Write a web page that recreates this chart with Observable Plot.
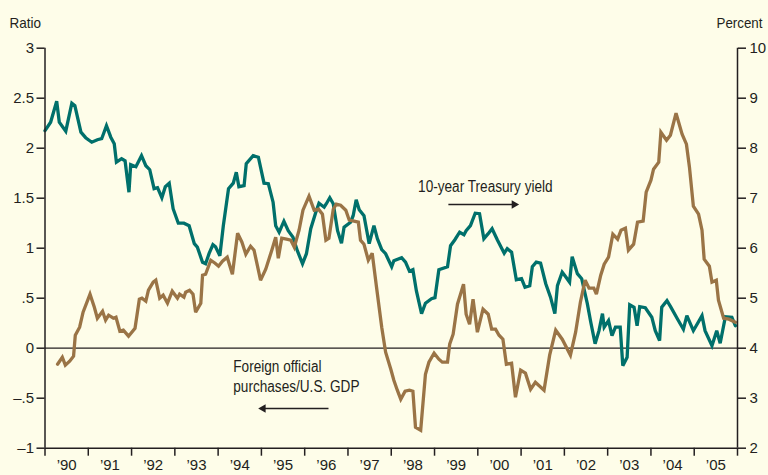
<!DOCTYPE html>
<html>
<head>
<meta charset="utf-8">
<script src="https://cdn.jsdelivr.net/npm/d3@7"></script>
<script src="https://cdn.jsdelivr.net/npm/@observablehq/plot@0.6"></script>
<style>
  html, body { margin: 0; padding: 0; background: #fefde9; }
  #chart svg { display: block; }
</style>
</head>
<body>
<div id="chart"></div>
<script>
// ---- data ----
const yearTicks = [1990,1991,1992,1993,1994,1995,1996,1997,1998,1999,2000,2001,2002,2003,2004,2005,2006];
const yearLabels = ["’90","’91","’92","’93","’94","’95","’96","’97","’98","’99","’00","’01","’02","’03","’04","’05"];
const ratioTicks = [-1,-0.5,0,0.5,1,1.5,2,2.5,3];
const ratioLabels = ["–1","–.5","0",".5","1","1.5","2","2.5","3"];
const percentTicks = [2,3,4,5,6,7,8,9,10];
const percentLabels = ["2","3","4","5","6","7","8","9","10"];

// 10-year Treasury yield, percent (time in decimal years)
const yieldTime = [1990.00,1990.13,1990.27,1990.33,1990.48,1990.62,1990.69,1990.83,1990.94,1991.08,1991.21,1991.31,1991.42,1991.52,1991.60,1991.65,1991.77,1991.85,1991.94,1991.98,1992.10,1992.23,1992.33,1992.42,1992.52,1992.60,1992.70,1992.78,1992.87,1992.96,1993.08,1993.21,1993.33,1993.45,1993.52,1993.64,1993.71,1993.79,1993.88,1993.94,1994.04,1994.12,1994.24,1994.35,1994.42,1994.48,1994.60,1994.65,1994.81,1994.93,1995.06,1995.16,1995.27,1995.33,1995.41,1995.52,1995.62,1995.73,1995.83,1995.95,1996.04,1996.14,1996.25,1996.33,1996.45,1996.50,1996.58,1996.66,1996.76,1996.85,1996.91,1997.06,1997.12,1997.19,1997.26,1997.37,1997.49,1997.60,1997.68,1997.78,1997.87,1998.01,1998.06,1998.24,1998.33,1998.42,1998.50,1998.58,1998.70,1998.79,1998.93,1999.01,1999.10,1999.30,1999.37,1999.47,1999.58,1999.68,1999.73,1999.83,1999.94,2000.04,2000.14,2000.24,2000.33,2000.45,2000.61,2000.68,2000.78,2000.89,2001.01,2001.09,2001.20,2001.26,2001.35,2001.45,2001.57,2001.68,2001.78,2001.84,2001.95,2002.03,2002.12,2002.18,2002.30,2002.40,2002.53,2002.61,2002.71,2002.80,2002.88,2002.92,2003.02,2003.10,2003.18,2003.29,2003.35,2003.45,2003.51,2003.61,2003.68,2003.74,2003.87,2004.02,2004.10,2004.20,2004.25,2004.37,2004.46,2004.61,2004.75,2004.83,2004.98,2005.18,2005.25,2005.41,2005.52,2005.60,2005.72,2005.87,2005.95];
const yieldValue = [8.35,8.52,8.94,8.52,8.34,8.90,8.85,8.32,8.21,8.12,8.17,8.19,8.45,8.22,8.09,7.72,7.79,7.75,7.12,7.67,7.63,7.85,7.65,7.57,7.19,7.21,7.01,7.23,7.30,6.79,6.50,6.50,6.45,6.09,6.02,5.72,5.69,5.89,6.07,6.03,5.85,6.45,7.19,7.30,7.52,7.23,7.25,7.69,7.85,7.82,7.30,7.29,6.92,6.45,6.32,6.54,6.35,6.22,5.95,5.69,5.89,6.39,6.70,6.90,6.82,6.89,7.01,6.89,6.35,6.10,6.42,6.52,6.65,6.97,6.77,6.65,6.09,6.45,6.19,5.97,5.89,5.63,5.75,5.81,5.72,5.54,5.57,5.15,4.69,4.90,4.99,5.01,5.57,5.63,6.05,6.17,6.32,6.27,6.35,6.45,6.70,6.69,6.19,6.29,6.39,6.17,5.90,5.99,5.92,5.37,5.39,5.22,5.25,5.63,5.72,5.70,5.29,5.02,4.69,5.25,5.52,5.43,5.32,5.83,5.49,5.39,4.89,4.52,4.09,4.35,4.69,4.42,4.55,4.25,4.42,4.42,3.65,3.82,4.87,4.82,4.45,4.83,4.81,4.62,4.35,4.15,4.82,4.95,4.82,4.59,4.38,4.65,4.35,4.65,4.35,4.05,4.35,4.10,4.63,4.62,4.45];

// Foreign official purchases / U.S. GDP, ratio
const flowTime = [1990.29,1990.40,1990.47,1990.57,1990.66,1990.70,1990.80,1990.88,1991.04,1991.14,1991.21,1991.33,1991.40,1991.47,1991.58,1991.64,1991.73,1991.81,1991.93,1992.08,1992.18,1992.24,1992.33,1992.39,1992.50,1992.56,1992.65,1992.73,1992.83,1992.94,1993.06,1993.11,1993.21,1993.25,1993.34,1993.42,1993.48,1993.60,1993.64,1993.71,1993.83,1993.93,1994.01,1994.10,1994.21,1994.33,1994.45,1994.55,1994.64,1994.75,1994.83,1994.98,1995.10,1995.24,1995.33,1995.39,1995.47,1995.58,1995.68,1995.76,1995.87,1995.96,1996.10,1996.22,1996.32,1996.41,1996.49,1996.56,1996.66,1996.73,1996.83,1996.95,1997.03,1997.14,1997.24,1997.29,1997.37,1997.47,1997.56,1997.66,1997.78,1997.87,1997.99,1998.06,1998.14,1998.22,1998.32,1998.42,1998.50,1998.56,1998.68,1998.79,1998.87,1998.99,1999.10,1999.18,1999.30,1999.35,1999.43,1999.53,1999.60,1999.67,1999.73,1999.81,1999.89,1999.99,2000.12,2000.24,2000.32,2000.41,2000.49,2000.58,2000.66,2000.78,2000.87,2000.99,2001.10,2001.22,2001.33,2001.53,2001.66,2001.80,2001.95,2002.14,2002.26,2002.37,2002.48,2002.57,2002.68,2002.74,2002.84,2002.92,2003.02,2003.12,2003.23,2003.31,2003.41,2003.48,2003.60,2003.69,2003.82,2003.89,2004.00,2004.06,2004.18,2004.23,2004.36,2004.45,2004.58,2004.72,2004.82,2004.89,2004.98,2005.10,2005.18,2005.23,2005.35,2005.41,2005.51,2005.56,2005.68,2005.80,2005.95];
const flowValue = [-0.16,-0.09,-0.17,-0.13,-0.08,0.13,0.21,0.36,0.54,0.41,0.30,0.37,0.28,0.33,0.30,0.31,0.17,0.18,0.12,0.20,0.49,0.50,0.47,0.58,0.66,0.68,0.50,0.53,0.45,0.57,0.50,0.54,0.51,0.56,0.58,0.54,0.36,0.45,0.73,0.74,0.88,0.85,0.82,0.87,0.91,0.74,1.15,1.06,0.94,1.02,0.98,0.68,0.79,0.98,1.11,0.90,1.10,1.09,1.08,1.01,1.18,1.38,1.52,1.38,1.39,1.34,1.08,1.10,1.39,1.44,1.43,1.38,1.28,1.27,1.26,1.08,1.04,0.88,0.95,0.61,0.21,-0.04,-0.21,-0.32,-0.42,-0.51,-0.43,-0.42,-0.43,-0.79,-0.82,-0.26,-0.14,-0.05,-0.11,-0.14,-0.14,0.04,0.14,0.44,0.54,0.64,0.34,0.24,0.49,0.16,0.39,0.34,0.19,0.19,0.13,0.09,-0.16,-0.15,-0.49,-0.22,-0.25,-0.41,-0.34,-0.42,-0.07,0.18,0.09,-0.07,0.16,0.46,0.68,0.60,0.60,0.54,0.73,0.84,0.91,1.14,1.09,1.18,1.20,0.98,1.04,1.26,1.27,1.56,1.68,1.79,1.86,2.16,2.08,2.13,2.35,2.14,2.04,1.81,1.42,1.34,1.18,0.89,0.82,0.66,0.68,0.48,0.30,0.29,0.26];

// annotations (data coordinates: year, ratio)
const labelTexts = ["10-year Treasury yield", "Foreign official", "purchases/U.S. GDP"];
const labelX = [1998.62, 1994.35, 1994.35];
const labelY = [1.61, -0.19, -0.39];
const arrowFrom = [[1999.32, 1.437], [1996.55, -0.603]];
const arrowTo = [[2000.80, 1.437], [1995.08, -0.603]];
const arrowTip = [[2000.84, 1.437], [1995.04, -0.603]];
const arrowRot = [90, -90];

// ---- build tables ----
const pctToRatio = p => (p - 4) / 2;   // right axis 2..10 % aligned with left axis -1..3
const yieldData = yieldTime.map((t, i) => ({t, v: pctToRatio(yieldValue[i])}));
const flowData = flowTime.map((t, i) => ({t, v: flowValue[i]}));
const labels = labelTexts.map((s, i) => ({s, x: labelX[i], y: labelY[i]}));
const arrows = arrowFrom.map((a, i) => ({x1: a[0], y1: a[1], x2: arrowTo[i][0], y2: arrowTo[i][1], hx: arrowTip[i][0], hy: arrowTip[i][1], rot: arrowRot[i]}));
const rightPos = percentTicks.map(pctToRatio);

const ink = "#231f20";
const teal = "#00706b";
const brown = "#9a7446";
const font = "'Liberation Sans', Arial, Helvetica, sans-serif";

const chart = Plot.plot({
  width: 768,
  height: 475,
  marginLeft: 44.5,
  marginRight: 31,
  marginTop: 47.7,
  marginBottom: 27.3,
  style: {background: "#fefde9", fontFamily: font, fontSize: "15px", color: ink, overflow: "visible"},
  x: {domain: [1990, 2006]},
  y: {domain: [-1, 3]},
  marks: [
    Plot.ruleY([0], {stroke: ink, strokeWidth: 1.3}),
    Plot.line(yieldData, {x: "t", y: "v", stroke: teal, strokeWidth: 3.3, strokeLinejoin: "miter", strokeMiterlimit: 3}),
    Plot.line(flowData, {x: "t", y: "v", stroke: brown, strokeWidth: 3.3, strokeLinejoin: "miter", strokeMiterlimit: 3}),
    Plot.ruleX([1990, 2006], {stroke: ink, strokeWidth: 1.5}),
    Plot.ruleY([-1], {stroke: ink, strokeWidth: 1.5}),
    Plot.axisY(ratioTicks, {anchor: "left", tickSize: 8, tickPadding: 3, strokeWidth: 1.5, stroke: ink, fill: ink, fontSize: 15,
      tickFormat: d => ratioLabels[ratioTicks.indexOf(d)], label: null}),
    Plot.axisY(rightPos, {anchor: "right", tickSize: 8, tickPadding: 4, strokeWidth: 1.5, stroke: ink, fill: ink, fontSize: 15,
      tickFormat: d => percentLabels[rightPos.indexOf(d)], label: null}),
    Plot.axisX(yearTicks, {anchor: "bottom", tickSize: 8, strokeWidth: 1.5, stroke: ink, tickFormat: () => "", label: null}),
    Plot.axisX(yearTicks.slice(0, 16).map(y => y + 0.5), {anchor: "bottom", tickSize: 0, tickPadding: 11, fill: ink, fontSize: 15,
      tickFormat: d => yearLabels[Math.floor(d) - 1990], label: null}),
    Plot.text(["Ratio"], {frameAnchor: "top-left", dx: -35.5, dy: -25, textAnchor: "start", lineAnchor: "middle", fill: ink, fontSize: 15}),
    Plot.text(["Percent"], {frameAnchor: "top-right", dx: 25, dy: -25, textAnchor: "end", lineAnchor: "middle", fill: ink, fontSize: 15}),
    Plot.text(labels, {x: "x", y: "y", text: "s", textAnchor: "start", lineAnchor: "middle", fill: ink, fontSize: 16}),
    Plot.link(arrows, {x1: "x1", y1: "y1", x2: "x2", y2: "y2", stroke: ink, strokeWidth: 1.3}),
    Plot.dot(arrows, {x: "hx", y: "hy", symbol: "triangle", r: 3.2, fill: ink, stroke: null, rotate: "rot"})
  ]
});
document.getElementById("chart").appendChild(chart);

// condensed look for the word labels (reference uses a condensed face)
const condense = {"Ratio": 0.9, "Percent": 0.89, "10-year Treasury yield": 0.85, "Foreign official": 0.85, "purchases/U.S. GDP": 0.85};
chart.querySelectorAll("text").forEach(t => {
  const f = condense[t.textContent];
  if (f) {
    const w = t.getComputedTextLength();
    t.setAttribute("textLength", (w * f).toFixed(1));
    t.setAttribute("lengthAdjust", "spacingAndGlyphs");
  }
});
</script>
</body>
</html>
